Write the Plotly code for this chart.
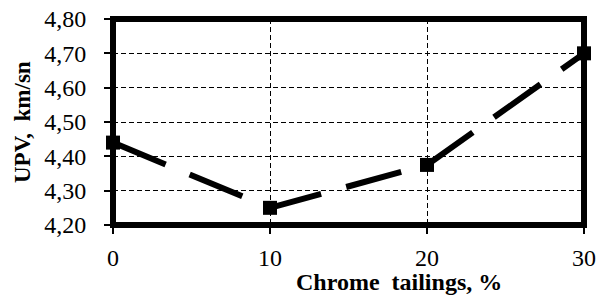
import plotly.graph_objects as go

x_vals = [0, 10, 20, 30]
upv = [4.44, 4.25, 4.375, 4.70]
x_ticks = [0, 10, 20, 30]
y_ticks = [4.2, 4.3, 4.4, 4.5, 4.6, 4.7, 4.8]
y_ticktext = ["4,20", "4,30", "4,40", "4,50", "4,60", "4,70", "4,80"]
x_title = "Chrome  tailings, %"
y_title = "UPV,  km/sn"

FONT = "Liberation Serif"

fig = go.Figure()
fig.add_trace(go.Scatter(
    x=x_vals, y=upv, mode="lines+markers",
    line=dict(color="black", width=6, dash="57px,26px"),
    marker=dict(symbol="square", size=14, color="black"),
    showlegend=False, cliponaxis=False,
))

fig.update_layout(
    width=603, height=297,
    margin=dict(l=113, r=19, t=19, b=72),
    paper_bgcolor="white", plot_bgcolor="white",
    font=dict(family=FONT, size=24, color="black"),
    xaxis=dict(range=[0, 30], tickvals=x_ticks, showgrid=True,
               gridcolor="black", gridwidth=1, griddash="5px,3px",
               ticks="outside", ticklen=8, tickwidth=1.5, tickcolor="black",
               zeroline=False, showline=False, ticklabelstandoff=3,
               tickfont=dict(family=FONT, size=24), automargin=False),
    yaxis=dict(range=[4.2, 4.8], tickvals=y_ticks, ticktext=y_ticktext, showgrid=True,
               gridcolor="black", gridwidth=1, griddash="5px,3px",
               ticks="outside", ticklen=8, tickwidth=1.5, tickcolor="black",
               zeroline=False, showline=False, ticklabelstandoff=13,
               tickfont=dict(family=FONT, size=24), automargin=False),
    shapes=[dict(type="rect", xref="x domain", yref="y domain", x0=0, x1=1, y0=0, y1=1,
                 line=dict(color="black", width=6), layer="above")],
    annotations=[
        dict(text="<b>" + x_title + "</b>", xref="paper", yref="paper",
             x=(399 - 113) / 471, y=-(282 - 225) / 206, xanchor="center", yanchor="middle",
             showarrow=False, font=dict(family=FONT, size=24)),
        dict(text="<b>" + y_title + "</b>", xref="paper", yref="paper",
             x=-(113 - 22) / 471, y=0.5, xanchor="center", yanchor="middle", textangle=-90,
             showarrow=False, font=dict(family=FONT, size=23)),
    ],
)
fig.write_html("out.html", config={"displayModeBar": False},
               post_script="document.body.style.margin='0';document.body.style.overflow='hidden';")
